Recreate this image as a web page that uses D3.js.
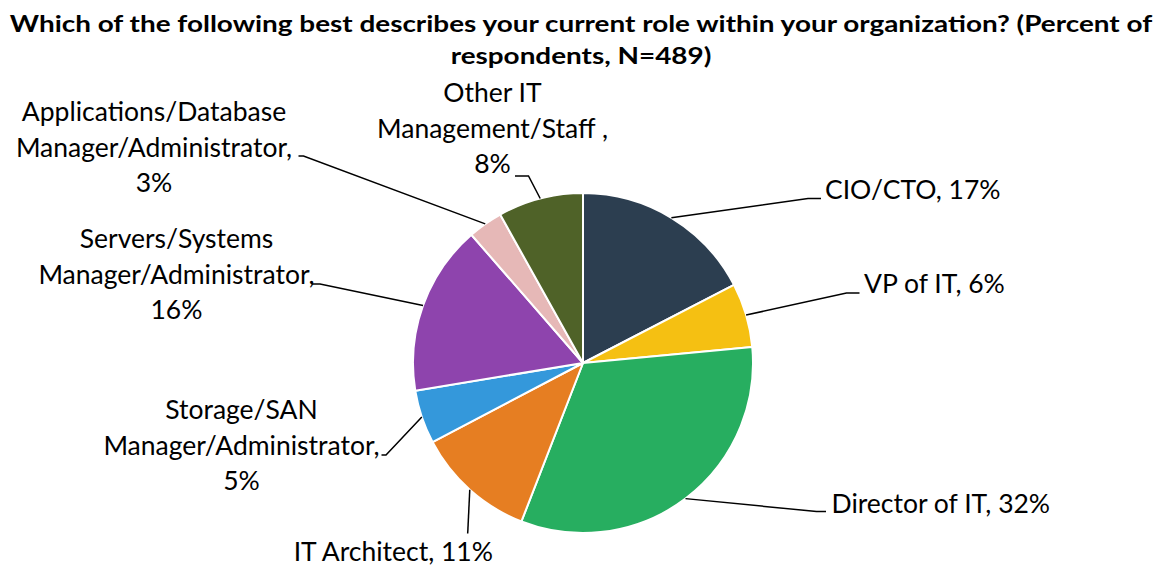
<!DOCTYPE html>
<html>
<head>
<meta charset="utf-8">
<script src="https://cdn.jsdelivr.net/npm/d3@7"></script>
<style>
  html, body { margin: 0; padding: 0; background: #fff; }
  svg { display: block; }
  text { font-family: Lato, "Open Sans", sans-serif; fill: #000; }
</style>
</head>
<body>
<svg id="chart" width="1160" height="570"></svg>
<script>
// ---- data ----
const titleLines = [
  "Which of the following best describes your current role within your organization? (Percent of",
  "respondents, N=489)"
];
const categories = [
  "CIO/CTO",
  "VP of IT",
  "Director of IT",
  "IT Architect",
  "Storage/SAN Manager/Administrator",
  "Servers/Systems Manager/Administrator",
  "Applications/Database Manager/Administrator",
  "Other IT Management/Staff"
];
const values = [17.4, 6.1, 32.4, 11.4, 5.1, 16.2, 3.3, 8.1];
const colors = ["#2C3E50", "#F5C012", "#27AE60", "#E67E22", "#3498DB", "#8E44AD", "#E6B8B7", "#4F6228"];
// label text lines ({p} = rounded percent)
const labelLines = [
  ["CIO/CTO, {p}%"],
  ["VP of IT, {p}%"],
  ["Director of IT, {p}%"],
  ["IT Architect, {p}%"],
  ["Storage/SAN", "Manager/Administrator,", "{p}%"],
  ["Servers/Systems", "Manager/Administrator,", "{p}%"],
  ["Applications/Database", "Manager/Administrator,", "{p}%"],
  ["Other IT", "Management/Staff ,", "{p}%"]
];

// ---- layout (positions only) ----
const W = 1160, H = 570;
const cx = 583, cy = 363, R = 170;
const lineGap = 35.5;
const titleWidth = 1143;
// text anchor x, first baseline y, anchor; leader elbow and end points
const labelLayout = [
  { x: 825,   y: 199,   anchor: "start",  elbow: [808, 198.5], end: [821, 198.5] },
  { x: 864,   y: 292.5, anchor: "start",  elbow: [846.5, 293], end: [859.5, 293] },
  { x: 831.5, y: 512.5, anchor: "start",  elbow: [816.5, 511.5], end: [826, 511.5] },
  { x: 393.3, y: 561,   anchor: "middle", elbow: null, end: [467.7, 533.5] },
  { x: 241.5, y: 419,   anchor: "middle", elbow: [386, 455], end: [381.5, 455] },
  { x: 176.5, y: 248,   anchor: "middle", elbow: [320, 284], end: [311.5, 284] },
  { x: 154,   y: 121,   anchor: "middle", elbow: [303.5, 156], end: [298.5, 156] },
  { x: 492.5, y: 102,   anchor: "middle", elbow: [528.5, 176], end: [515, 176] }
];

const svg = d3.select("#chart");

// title (stretched horizontally to match the wide bold face of the original)
const tg = svg.append("g");
const tTexts = tg.selectAll("text").data(titleLines).join("text")
  .attr("x", 0)
  .attr("y", (d, i) => 32 + i * 32)
  .attr("text-anchor", "middle")
  .style("font-weight", "bold")
  .style("font-size", "22px")
  .text(d => d);
const natural = tTexts.nodes()[0].getComputedTextLength();
const sx = natural > 0 ? titleWidth / natural : 1;
tg.attr("transform", `translate(${W / 2 + 1},0) scale(${sx},1)`);

// pie
const pie = d3.pie().sort(null).value(d => d);
const arcs = pie(values);
const arc = d3.arc().innerRadius(0).outerRadius(R);

const g = svg.append("g").attr("transform", `translate(${cx},${cy})`);
g.selectAll("path").data(arcs).join("path")
  .attr("d", arc)
  .attr("fill", (d, i) => colors[i])
  .attr("stroke", "#fff")
  .attr("stroke-width", 2)
  .attr("stroke-linejoin", "round");

// leader lines
const leaders = svg.append("g");
arcs.forEach((a, i) => {
  const mid = (a.startAngle + a.endAngle) / 2;
  const p0 = [cx + R * Math.sin(mid), cy - R * Math.cos(mid)];
  const L = labelLayout[i];
  const pts = [p0];
  if (L.elbow) pts.push(L.elbow);
  pts.push(L.end);
  leaders.append("path")
    .attr("d", d3.line()(pts))
    .attr("fill", "none")
    .attr("stroke", "#000")
    .attr("stroke-width", 1.5);
});

// labels
const lbl = svg.append("g");
labelLines.forEach((lines, i) => {
  const L = labelLayout[i];
  const pct = Math.round(values[i]);
  lines.forEach((t, j) => {
    lbl.append("text")
      .attr("x", L.x)
      .attr("y", L.y + j * lineGap)
      .attr("text-anchor", L.anchor)
      .style("font-size", "26.5px")
      .text(t.replace("{p}", pct));
  });
});
</script>
</body>
</html>
